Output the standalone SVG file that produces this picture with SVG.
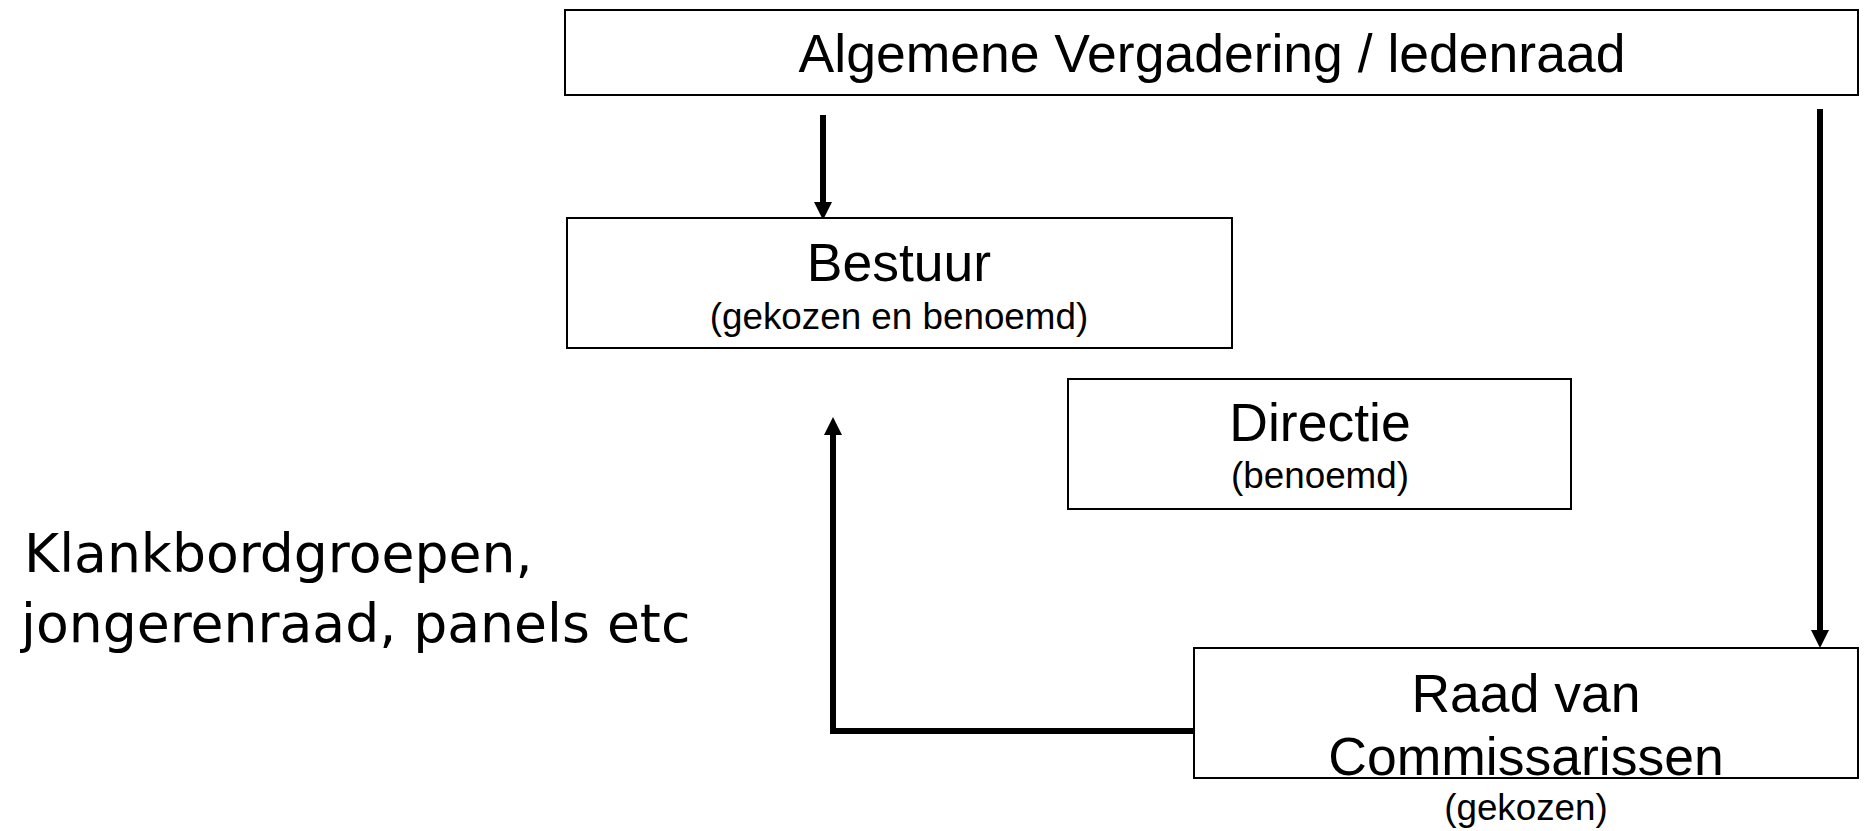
<svg xmlns="http://www.w3.org/2000/svg" width="1868" height="831" viewBox="0 0 1868 831">
  <style>
    .box { fill: #ffffff; stroke: #000000; stroke-width: 2; }
    .title { font-family: "Liberation Sans", Arial, sans-serif; font-size: 53.5px; fill: #000000; text-anchor: middle; }
    .sub { font-family: "Liberation Sans", Arial, sans-serif; font-size: 36.8px; fill: #000000; text-anchor: middle; }
    .note { font-family: "DejaVu Sans", Verdana, sans-serif; font-size: 53.6px; fill: #000000; }
    .wire { fill: none; stroke: #000000; stroke-width: 6; stroke-linejoin: miter; }
  </style>
  <defs>
    <marker id="head" viewBox="0 0 18 18" refX="0" refY="9" markerWidth="18" markerHeight="18" markerUnits="userSpaceOnUse" orient="auto">
      <path d="M0,0 L18,9 L0,18 z" fill="#000000"/>
    </marker>
  </defs>

  <rect width="1868" height="831" fill="#ffffff"/>

  <!-- connectors -->
  <g id="connectors">
    <line class="wire" x1="823" y1="115" x2="823" y2="202" marker-end="url(#head)"/>
    <line class="wire" x1="1820" y1="109" x2="1820" y2="630" marker-end="url(#head)"/>
    <path class="wire" d="M1194,731 H833 V435" marker-end="url(#head)"/>
  </g>

  <!-- general assembly -->
  <g id="node-algemene-vergadering">
    <rect class="box" x="565" y="10" width="1293" height="85"/>
    <text class="title" x="1212" y="72">Algemene Vergadering / ledenraad</text>
  </g>

  <!-- board -->
  <g id="node-bestuur">
    <rect class="box" x="567" y="218" width="665" height="130"/>
    <text class="title" x="899" y="281">Bestuur</text>
    <text class="sub" x="899" y="329">(gekozen en benoemd)</text>
  </g>

  <!-- management -->
  <g id="node-directie">
    <rect class="box" x="1068" y="379" width="503" height="130"/>
    <text class="title" x="1320" y="441">Directie</text>
    <text class="sub" x="1320" y="488">(benoemd)</text>
  </g>

  <!-- supervisory board -->
  <g id="node-raad-van-commissarissen">
    <rect class="box" x="1194" y="648" width="664" height="130"/>
    <text class="title" x="1526" y="712">Raad van</text>
    <text class="title" x="1526" y="775">Commissarissen</text>
    <text class="sub" x="1526" y="820">(gekozen)</text>
  </g>

  <!-- advisory groups -->
  <g id="node-klankbordgroepen">
    <text class="note" x="24" y="572">Klankbordgroepen,</text>
    <text class="note" x="21" y="642">jongerenraad, panels etc</text>
  </g>
</svg>
